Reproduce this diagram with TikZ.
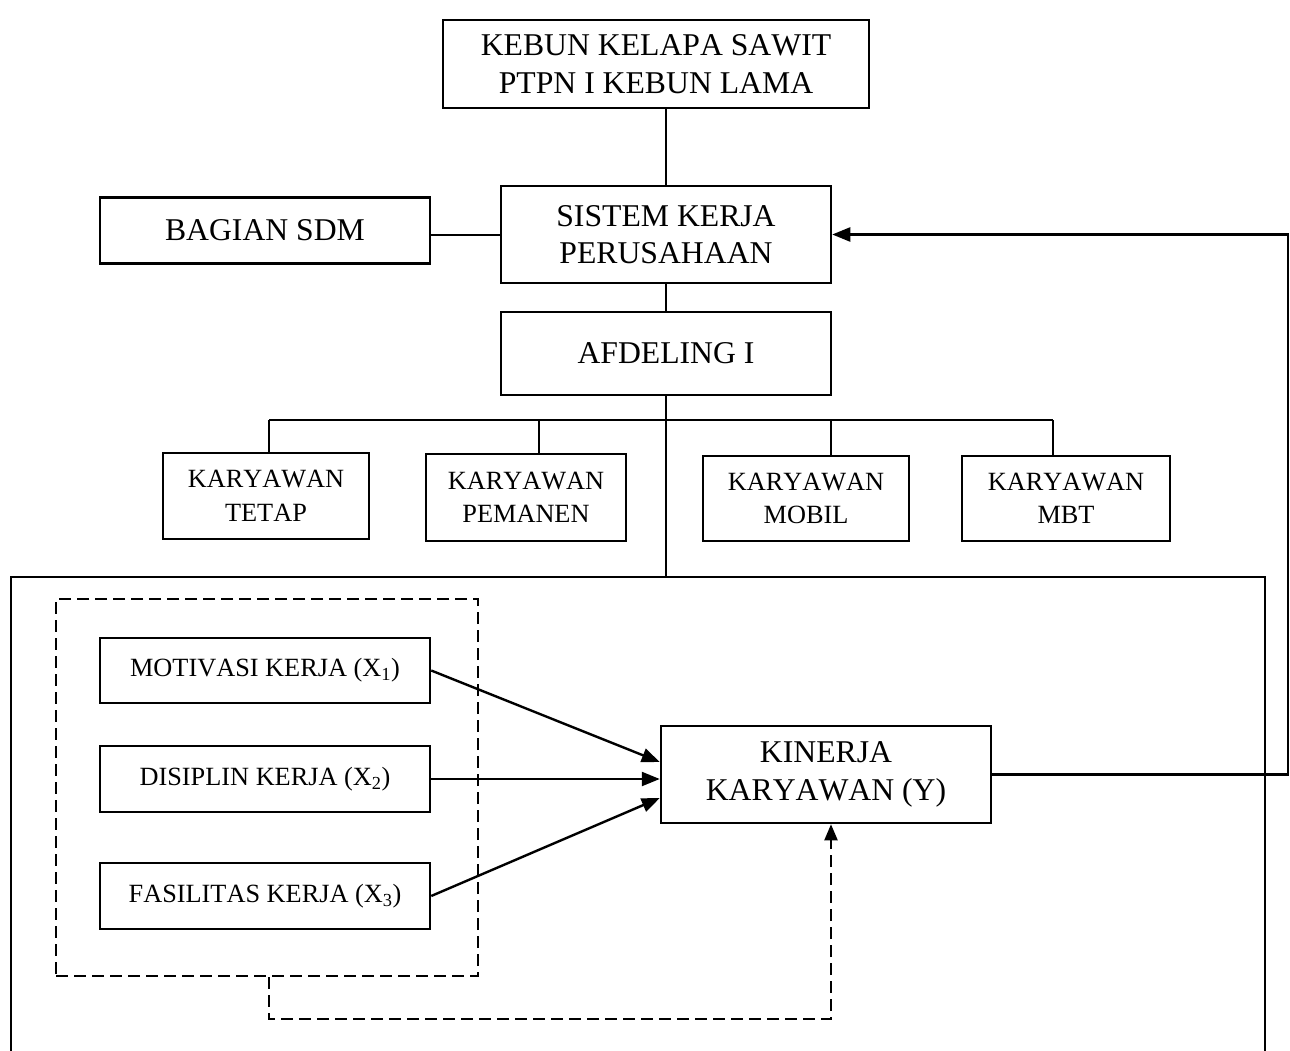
\documentclass[tikz,border=0pt]{standalone}
\usepackage{fontspec}
\setmainfont[Kerning=Off]{Liberation Serif}
\usetikzlibrary{arrows.meta}

\begin{document}
\begin{tikzpicture}[x=1pt,y=-1pt,
		kotak/.style={draw,line width=2.5pt,align=center,inner sep=0pt},
		besar/.style={kotak,font=\fontsize{31.7}{37.5}\selectfont},
		kecil/.style={kotak,font=\fontsize{26.3}{33.5}\selectfont},
		garis/.style={line width=2pt},
		panah/.style={line width=2.4pt,-{Triangle[length=18pt,width=14pt]}},
		putus/.style={line width=2pt,dash pattern=on 12pt off 6pt}]
		\useasboundingbox (0,0) rectangle (1290,1051);
		
		\node[besar,minimum width=426pt,minimum height=88pt] (kebun) at (656,64) {KEBUN KELAPA SAWIT\\PTPN I KEBUN LAMA};
		\node[besar,minimum width=330pt,minimum height=97pt] (sistem) at (666,234.5) {SISTEM KERJA\\PERUSAHAAN};
		\node[besar,minimum width=330pt,minimum height=66pt] (sdm) at (265,230.5) {BAGIAN SDM};
		\node[besar,minimum width=330pt,minimum height=83pt] (afd) at (666,353.5) {AFDELING I};
		
		\node[kecil,minimum width=206pt,minimum height=86pt] (tetap) at (266,496) {KARYAWAN\\TETAP};
		\node[kecil,minimum width=200pt,minimum height=87pt] (pemanen) at (526,497.5) {KARYAWAN\\PEMANEN};
		\node[kecil,minimum width=206pt,minimum height=85pt] (mobil) at (806,498.5) {KARYAWAN\\MOBIL};
		\node[kecil,minimum width=208pt,minimum height=85pt] (mbt) at (1066,498.5) {KARYAWAN\\MBT};
		
		\node[draw,putus,minimum width=422pt,minimum height=377pt] (grp) at (267,787.5) {};
		\node[kecil,minimum width=330pt,minimum height=65pt] (mot) at (265,670.5) {MOTIVASI KERJA (X\textsubscript{1})};
		\node[kecil,minimum width=330pt,minimum height=66pt] (dis) at (265,779) {DISIPLIN KERJA (X\textsubscript{2})};
		\node[kecil,minimum width=330pt,minimum height=66pt] (fas) at (265,896) {FASILITAS KERJA (X\textsubscript{3})};
		\node[besar,minimum width=330pt,minimum height=97pt] (kin) at (826,774.5) {KINERJA\\KARYAWAN (Y)};
		
		\coordinate (bus) at (0,420);
		\coordinate (atas) at (0,577);
		\coordinate (kanan) at (1288,0);
		\path ([xshift=3pt]tetap.north) coordinate (ttetap);
		\path ([xshift=13pt]pemanen.north) coordinate (tpemanen);
		\path ([xshift=25pt]mobil.north) coordinate (tmobil);
		\path ([xshift=-13pt]mbt.north) coordinate (tmbt);
		
		\draw[garis] (kebun.south -| sistem.north) -- (sistem.north);
		\draw[garis] (sdm.east |- sistem.west) -- (sistem.west);
		\draw[garis] (sistem.south) -- (afd.north);
		\draw[garis] (afd.south) -- (afd.south |- atas);
		\draw[garis] (ttetap |- bus) -- (tmbt |- bus);
		\draw[garis] (ttetap |- bus) -- (ttetap);
		\draw[garis] (tpemanen |- bus) -- (tpemanen);
		\draw[garis] (tmobil |- bus) -- (tmobil);
		\draw[garis] (tmbt |- bus) -- (tmbt);
		
		\draw[garis] (11,1051) |- (1265,577) -- (1265,1051);
		
		\draw[panah] (mot.east) -- ([yshift=12.5pt]kin.west);
		\draw[panah] (dis.east) -- (dis.east -| kin.west);
		\draw[panah] (fas.east) -- ([yshift=-23.5pt]kin.west);
		\draw[panah] (kin.east) -- (kin.east -| kanan) |- (sistem.east);
		\draw[putus,-{Triangle[length=16pt,width=13pt]}] ([xshift=2pt]grp.south) -- ++(0,42) -| ([xshift=5pt]kin.south);
\end{tikzpicture}
\end{document}
